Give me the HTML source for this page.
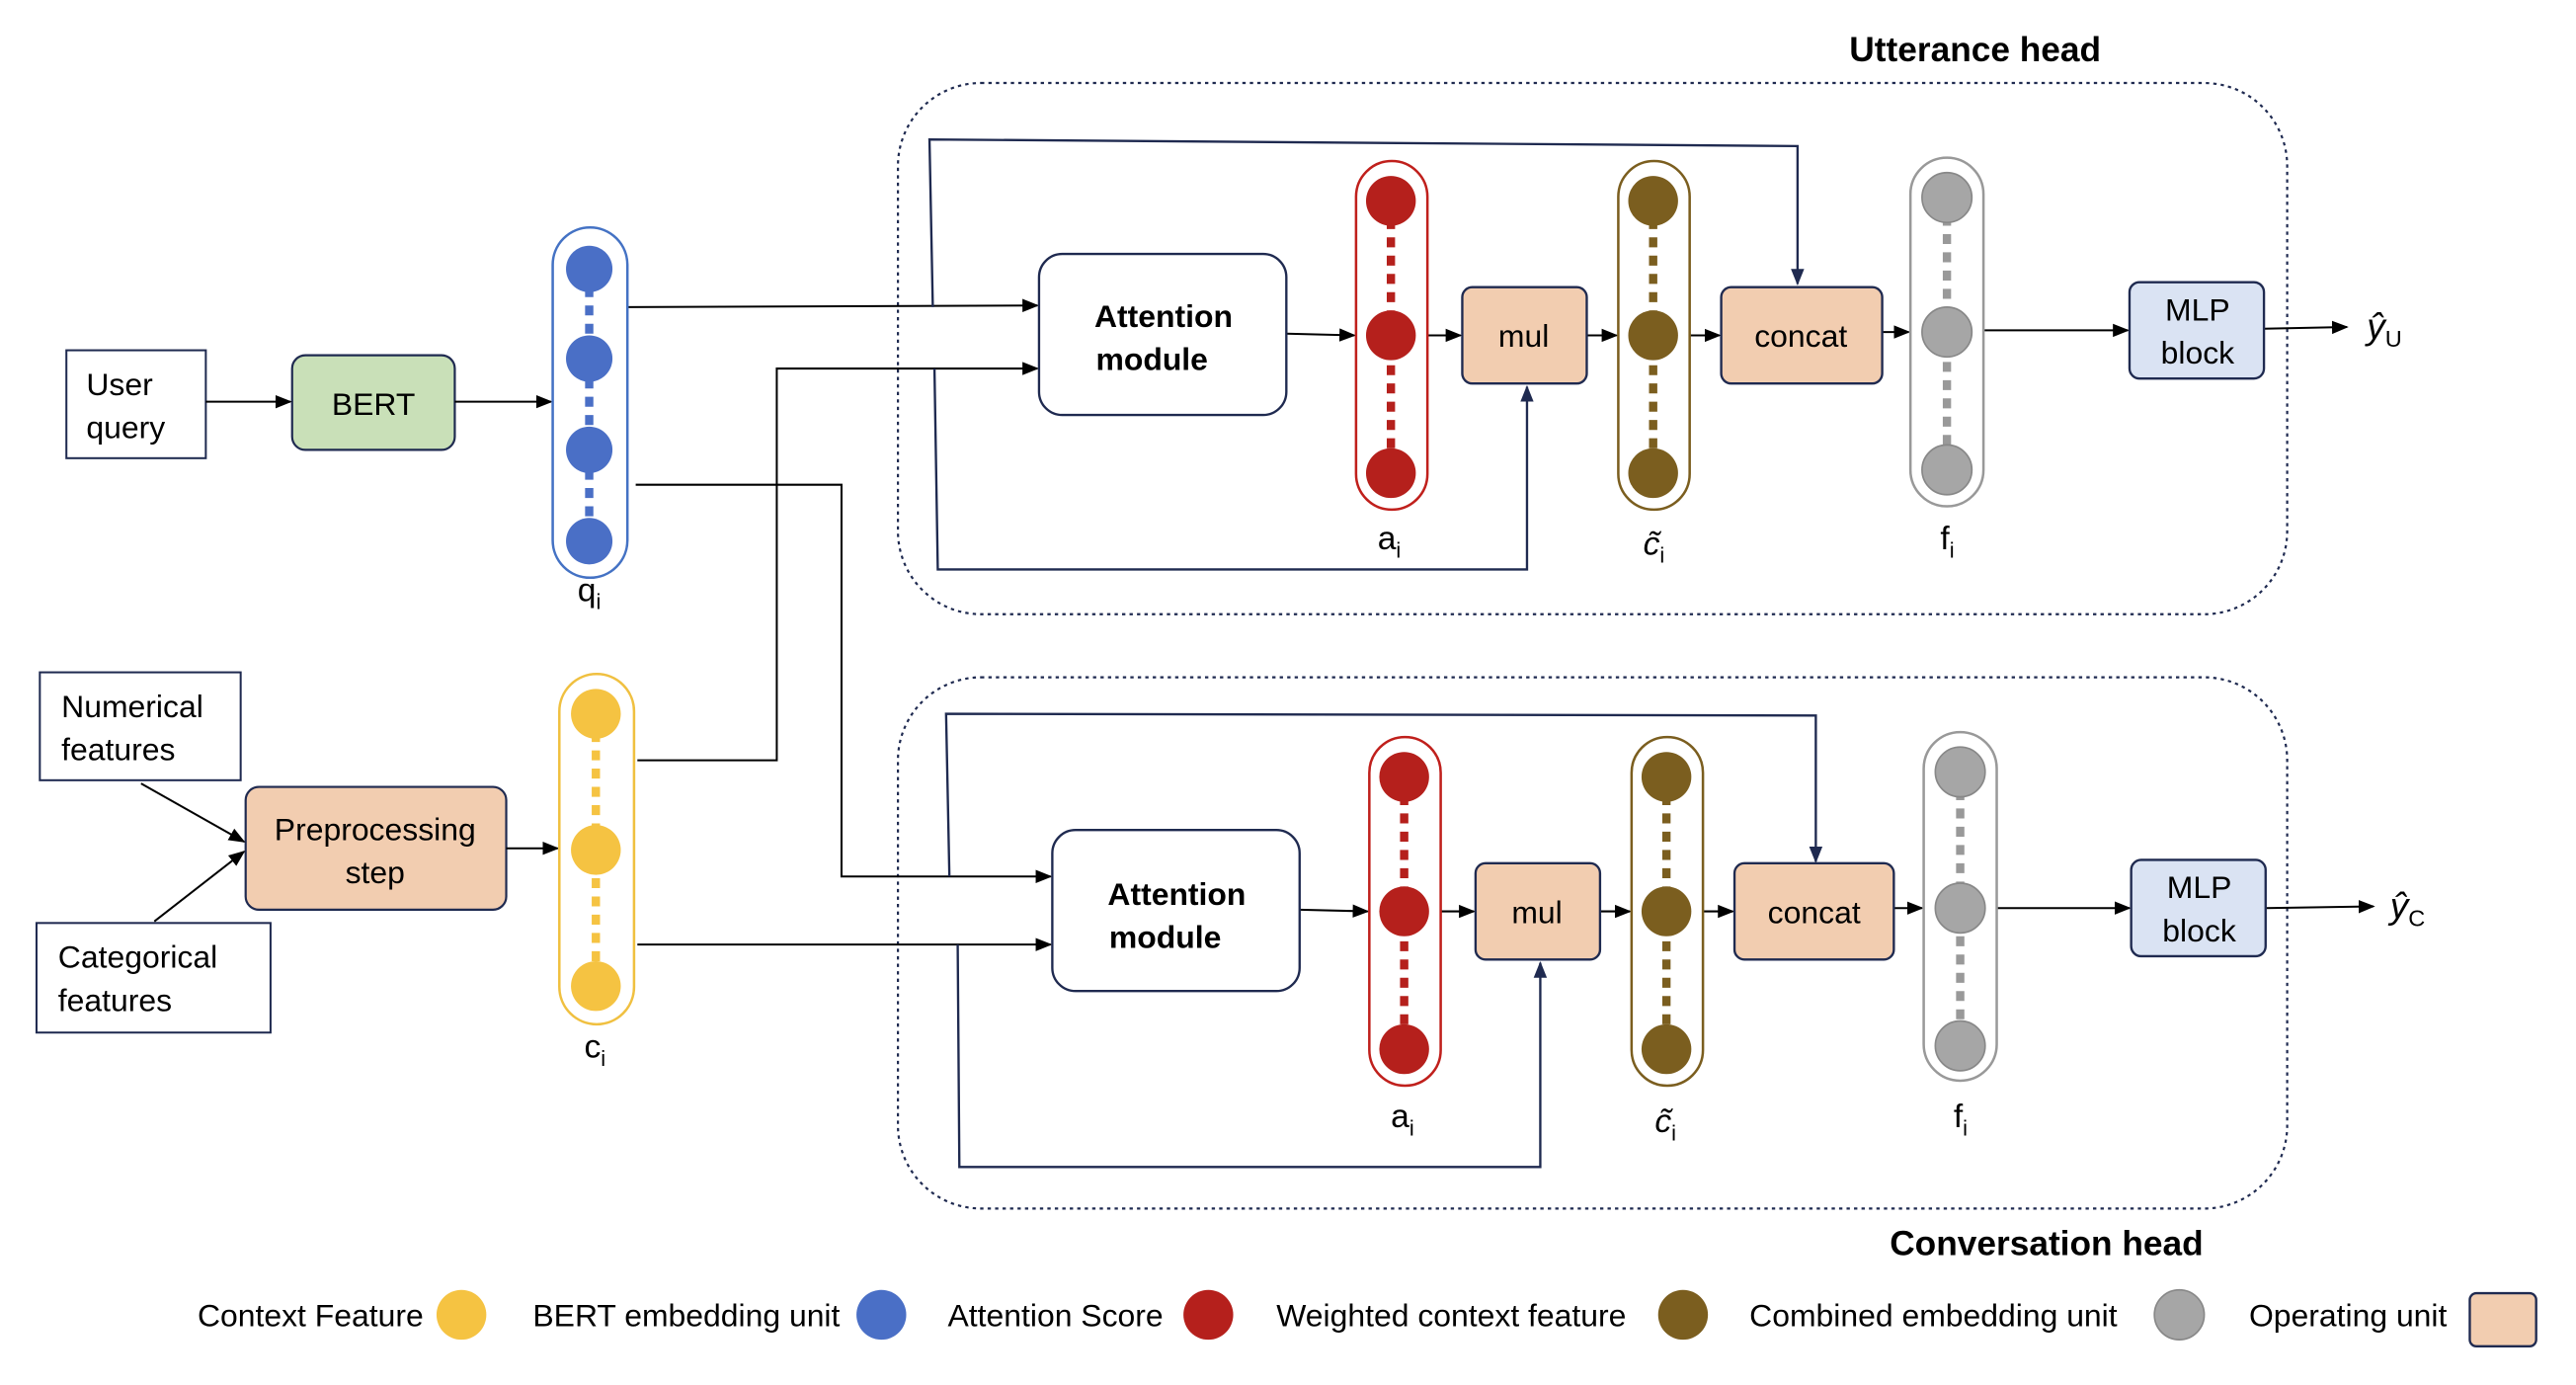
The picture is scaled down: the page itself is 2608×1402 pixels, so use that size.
<!DOCTYPE html>
<html><head><meta charset="utf-8"><style>
html,body{margin:0;padding:0;background:#fff;}
svg{display:block;}
text{font-family:"Liberation Sans",sans-serif;fill:#000;}
</style></head><body>
<svg width="2608" height="1402" viewBox="0 0 1552 834.3" preserveAspectRatio="none" xmlns="http://www.w3.org/2000/svg">
<defs>
<marker id="ar" markerWidth="10" markerHeight="10" refX="9" refY="5" orient="auto" markerUnits="userSpaceOnUse"><path d="M0,1 L10,5 L0,9 z" fill="#000"/></marker>
<marker id="arb" markerWidth="10" markerHeight="10" refX="9" refY="5" orient="auto" markerUnits="userSpaceOnUse"><path d="M0,1 L10,5 L0,9 z" fill="#1f2a50"/></marker>
</defs>
<g fill="none" stroke="#1f2a50" stroke-width="1.3" stroke-dasharray="2,2.5">
<rect x="541" y="50" width="837" height="320" rx="50"/>
<rect x="541" y="408" width="837" height="320" rx="50"/>
</g>
<text x="1190" y="37" font-size="21" font-weight="bold" text-anchor="middle">Utterance head</text>
<text x="1233" y="756" font-size="21" font-weight="bold" text-anchor="middle">Conversation head</text>

<g fill="#fff" stroke="#1f2a50" stroke-width="1.2">
<rect x="40" y="211" width="84" height="65"/>
<rect x="24" y="405" width="121" height="65"/>
<rect x="22" y="556" width="141" height="66"/>
</g>
<g font-size="19">
<text x="52" y="238">User</text><text x="52" y="264">query</text>
<text x="37" y="432">Numerical</text><text x="37" y="458">features</text>
<text x="35" y="583">Categorical</text><text x="35" y="609">features</text>
</g>
<rect x="176" y="214" width="98" height="57" rx="8" fill="#c9e0b8" stroke="#1f2a50" stroke-width="1.3"/>
<text x="225" y="250" font-size="19" text-anchor="middle">BERT</text>
<rect x="148" y="474" width="157" height="74" rx="8" fill="#f2cdb0" stroke="#1f2a50" stroke-width="1.3"/>
<text x="226" y="506" font-size="19" text-anchor="middle">Preprocessing</text>
<text x="226" y="532" font-size="19" text-anchor="middle">step</text>

<g stroke="#000" stroke-width="1.2" fill="none" marker-end="url(#ar)">
<line x1="124" y1="242" x2="175" y2="242"/>
<line x1="274" y1="242" x2="332" y2="242"/>
<line x1="85" y1="472" x2="147" y2="507"/>
<line x1="93" y1="555" x2="147" y2="513"/>
<line x1="305" y1="511" x2="336" y2="511"/>
<line x1="378" y1="185" x2="625" y2="184"/>
<polyline points="384,458 468,458 468,222 625,222"/>
<polyline points="383,292 507,292 507,528 633,528"/>
<line x1="384" y1="569" x2="633" y2="569"/>
<line x1="775" y1="201" x2="816" y2="202"/>
<line x1="860" y1="202" x2="880" y2="202"/>
<line x1="956" y1="202" x2="974" y2="202"/>
<line x1="1018" y1="202" x2="1036" y2="202"/>
<line x1="1134" y1="200" x2="1150" y2="200"/>
<line x1="1195" y1="199" x2="1282" y2="199"/>
<line x1="1364" y1="198" x2="1414" y2="197"/>
<line x1="783" y1="548" x2="824" y2="549"/>
<line x1="868" y1="549" x2="888" y2="549"/>
<line x1="964" y1="549" x2="982" y2="549"/>
<line x1="1026" y1="549" x2="1044" y2="549"/>
<line x1="1141" y1="547" x2="1158" y2="547"/>
<line x1="1203" y1="547" x2="1283" y2="547"/>
<line x1="1365" y1="547" x2="1430" y2="546"/>
</g>
<g stroke="#1f2a50" stroke-width="1.4" fill="none" marker-end="url(#arb)">
<polyline points="562,185 560,84 1083,88 1083,171"/>
<polyline points="563,222 565,343 920,343 920,233"/>
<polyline points="572,528 570,430 1094,431 1094,519"/>
<polyline points="577,569 578,703 928,703 928,580"/>
</g>

<!-- pills -->
<g stroke-width="1.5" fill="#fff">
<rect x="333" y="137" width="45" height="211" rx="22.5" stroke="#4472c4"/>
<rect x="337" y="406" width="45" height="211" rx="22.5" stroke="#f0c040"/>
<rect x="817" y="97" width="43" height="210" rx="21.5" stroke="#c0201c"/>
<rect x="975" y="97" width="43" height="210" rx="21.5" stroke="#7b5e1f"/>
<rect x="1151" y="95" width="44" height="210" rx="22" stroke="#999"/>
<rect x="825" y="444" width="43" height="210" rx="21.5" stroke="#c0201c"/>
<rect x="983" y="444" width="43" height="210" rx="21.5" stroke="#7b5e1f"/>
<rect x="1159" y="441" width="44" height="210" rx="22" stroke="#999"/>
</g>
<g stroke-width="5" stroke-dasharray="6,5">
<line x1="355" y1="162" x2="355" y2="326" stroke="#4a6fc6"/>
<line x1="359" y1="430" x2="359" y2="594" stroke="#f5c342"/>
<line x1="838" y1="121" x2="838" y2="285" stroke="#b5201c"/>
<line x1="996" y1="121" x2="996" y2="285" stroke="#7b5e1f"/>
<line x1="1173" y1="119" x2="1173" y2="283" stroke="#999"/>
<line x1="846" y1="468" x2="846" y2="632" stroke="#b5201c"/>
<line x1="1004" y1="468" x2="1004" y2="632" stroke="#7b5e1f"/>
<line x1="1181" y1="465" x2="1181" y2="630" stroke="#999"/>
</g>
<g fill="#4a6fc6"><circle cx="355" cy="162" r="14"/><circle cx="355" cy="216" r="14"/><circle cx="355" cy="271" r="14"/><circle cx="355" cy="326" r="14"/></g>
<g fill="#f5c342"><circle cx="359" cy="430" r="15"/><circle cx="359" cy="512" r="15"/><circle cx="359" cy="594" r="15"/></g>
<g fill="#b5201c"><circle cx="838" cy="121" r="15"/><circle cx="838" cy="202" r="15"/><circle cx="838" cy="285" r="15"/>
<circle cx="846" cy="468" r="15"/><circle cx="846" cy="549" r="15"/><circle cx="846" cy="632" r="15"/></g>
<g fill="#7b5e1f"><circle cx="996" cy="121" r="15"/><circle cx="996" cy="202" r="15"/><circle cx="996" cy="285" r="15"/>
<circle cx="1004" cy="468" r="15"/><circle cx="1004" cy="549" r="15"/><circle cx="1004" cy="632" r="15"/></g>
<g fill="#a6a6a6" stroke="#888" stroke-width="1"><circle cx="1173" cy="119" r="15"/><circle cx="1173" cy="200" r="15"/><circle cx="1173" cy="283" r="15"/>
<circle cx="1181" cy="465" r="15"/><circle cx="1181" cy="547" r="15"/><circle cx="1181" cy="630" r="15"/></g>

<!-- modules -->
<g stroke="#1f2a50" stroke-width="1.4">
<rect x="626" y="153" width="149" height="97" rx="14" fill="#fff"/>
<rect x="634" y="500" width="149" height="97" rx="14" fill="#fff"/>
<rect x="881" y="173" width="75" height="58" rx="6" fill="#f2cdb0"/>
<rect x="889" y="520" width="75" height="58" rx="6" fill="#f2cdb0"/>
<rect x="1037" y="173" width="97" height="58" rx="6" fill="#f2cdb0"/>
<rect x="1045" y="520" width="96" height="58" rx="6" fill="#f2cdb0"/>
<rect x="1283" y="170" width="81" height="58" rx="6" fill="#dae3f3"/>
<rect x="1284" y="518" width="81" height="58" rx="6" fill="#dae3f3"/>
</g>
<g font-size="19" text-anchor="middle">
<text x="701" y="197" font-weight="bold">Attention</text><text x="694" y="223" font-weight="bold">module</text>
<text x="709" y="545" font-weight="bold">Attention</text><text x="702" y="571" font-weight="bold">module</text>
<text x="918" y="209">mul</text><text x="926" y="556">mul</text>
<text x="1085" y="209">concat</text><text x="1093" y="556">concat</text>
<text x="1324" y="193">MLP</text><text x="1324" y="219">block</text>
<text x="1325" y="541">MLP</text><text x="1325" y="567">block</text>
</g>
<g font-size="20">
<text x="348" y="362">q<tspan font-size="13" dy="5">i</tspan></text>
<text x="352" y="637">c<tspan font-size="13" dy="5">i</tspan></text>
<text x="830" y="331">a<tspan font-size="13" dy="5">i</tspan></text>
<text x="838" y="679">a<tspan font-size="13" dy="5">i</tspan></text>
<text x="990" y="334" font-family="Liberation Serif" font-style="italic">c̃<tspan font-size="13" dy="5" font-style="normal">i</tspan></text>
<text x="997" y="682" font-family="Liberation Serif" font-style="italic">c̃<tspan font-size="13" dy="5" font-style="normal">i</tspan></text>
<text x="1169" y="331">f<tspan font-size="13" dy="5">i</tspan></text>
<text x="1177" y="679">f<tspan font-size="13" dy="5">i</tspan></text>
<text x="1426" y="204" font-family="Liberation Serif" font-style="italic" font-size="22">ŷ<tspan font-size="14" dy="5" font-style="normal">U</tspan></text>
<text x="1440" y="553" font-family="Liberation Serif" font-style="italic" font-size="22">ŷ<tspan font-size="14" dy="5" font-style="normal">C</tspan></text>
</g>

<!-- legend -->
<g font-size="19">
<text x="119" y="799">Context Feature</text>
<text x="321" y="799">BERT embedding unit</text>
<text x="571" y="799">Attention Score</text>
<text x="769" y="799">Weighted context feature</text>
<text x="1054" y="799">Combined embedding unit</text>
<text x="1355" y="799">Operating unit</text>
</g>
<circle cx="278" cy="792" r="15" fill="#f5c342"/>
<circle cx="531" cy="792" r="15" fill="#4a6fc6"/>
<circle cx="728" cy="792" r="15" fill="#b5201c"/>
<circle cx="1014" cy="792" r="15" fill="#7b5e1f"/>
<circle cx="1313" cy="792" r="15" fill="#a6a6a6" stroke="#888"/>
<rect x="1488" y="779" width="40" height="32" rx="4" fill="#f2cdb0" stroke="#1f2a50" stroke-width="1.4"/>
</svg>
</body></html>
